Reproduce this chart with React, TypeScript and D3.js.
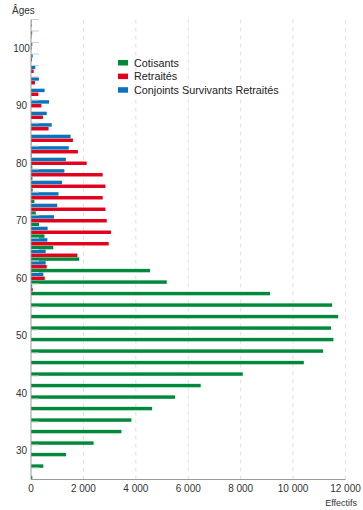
import React, { useRef, useEffect } from 'react';
import * as d3 from 'd3';

// age groups (2-year bins, centred on even ages)
const ages = [26, 28, 30, 32, 34, 36, 38, 40, 42, 44, 46, 48, 50, 52, 54, 56, 58, 60, 62, 64,
  66, 68, 70, 72, 74, 76, 78, 80, 82, 84, 86, 88, 90, 92, 94, 96, 98, 100, 102, 104];

const cotisants = [50, 470, 1335, 2390, 3450, 3830, 4620, 5495, 6475, 8080, 10410, 11145, 11540, 11450, 11720, 11490, 9120, 5180, 4540, 1840,
  850, 515, 305, 185, 130, 65, 55, 50, 25, 15, 0, 0, 0, 0, 0, 0, 0, 0, 0, 0];

const retraites = [0, 0, 0, 0, 0, 0, 0, 0, 0, 0, 0, 0, 0, 0, 0, 0, 65, 525, 600, 1770,
  2965, 3050, 2890, 2840, 2735, 2840, 2735, 2125, 1790, 1600, 670, 455, 395, 280, 150, 100, 35, 20, 15, 20];

const conjoints = [0, 0, 0, 0, 0, 0, 0, 0, 0, 0, 0, 0, 0, 0, 0, 0, 45, 470, 560, 560,
  625, 635, 880, 1000, 1050, 1185, 1275, 1330, 1440, 1510, 790, 600, 690, 520, 300, 165, 65, 50, 45, 15];

const ageTicks = [30, 40, 50, 60, 70, 80, 90, 100];
const xTicks = [0, 2000, 4000, 6000, 8000, 10000, 12000];

const seriesNames = ['Cotisants', 'Retraités', 'Conjoints Survivants Retraités'];
const seriesKeys = ['cot', 'ret', 'conj'];
const colors = ['#00893A', '#E3001B', '#0B72BC'];

export default function App() {
  const ref = useRef<SVGSVGElement>(null);

  useEffect(() => {
    const font = '"Liberation Sans", Arial, sans-serif';
    const svg = d3.select(ref.current);
    svg.selectAll('*').remove();

    const x = d3.scaleLinear().domain([0, 12000]).range([31, 345.5]);
    const y = d3.scaleLinear().domain([25, 105]).range([479.5, 19.5]);
    const groupH = y(0) - y(2);
    // within a group: blue on top, red middle, green bottom
    const sub = d3.scaleBand<string>()
      .domain(['conj', 'ret', 'cot'])
      .range([-groupH / 2, groupH / 2])
      .paddingInner(0.1)
      .paddingOuter(0.05);

    const fr = d3.formatLocale({ decimal: ',', thousands: '\u00a0', grouping: [3], currency: ['', ' €'] }).format(',');

    // dashed gridlines
    svg.append('g')
      .selectAll('line')
      .data(xTicks.filter(d => d > 0))
      .join('line')
      .attr('x1', d => x(d)).attr('x2', d => x(d))
      .attr('y1', y(105)).attr('y2', y(25))
      .attr('stroke', '#e0e0e0')
      .attr('stroke-dasharray', '4,4');

    // bars
    const series = [cotisants, retraites, conjoints];
    series.forEach((vals, si) => {
      svg.append('g')
        .selectAll('rect')
        .data(ages.map((a, i) => ({ age: a, v: vals[i] })).filter(d => d.v > 0))
        .join('rect')
        .attr('x', x(0))
        .attr('y', d => y(d.age) + (sub(seriesKeys[si]) as number))
        .attr('width', d => x(d.v) - x(0))
        .attr('height', sub.bandwidth())
        .attr('fill', colors[si]);
    });

    // small y ticks at bin boundaries
    const bounds = ages.map(a => a + 1);
    svg.append('g')
      .selectAll('line')
      .data(bounds)
      .join('line')
      .attr('x1', x(0)).attr('x2', x(0) + 8)
      .attr('y1', d => y(d)).attr('y2', d => y(d))
      .attr('stroke', '#cfcfcf');

    // axes
    svg.append('line')
      .attr('x1', x(0)).attr('x2', x(0))
      .attr('y1', y(105)).attr('y2', y(25))
      .attr('stroke', '#9a9a9a');
    svg.append('line')
      .attr('x1', x(0)).attr('x2', x(12000))
      .attr('y1', y(25)).attr('y2', y(25))
      .attr('stroke', '#9a9a9a');

    svg.append('g')
      .selectAll('text')
      .data(ageTicks)
      .join('text')
      .attr('x', 21.5)
      .attr('y', d => y(d))
      .attr('dy', '0.35em')
      .attr('text-anchor', 'middle')
      .attr('font-family', font)
      .attr('font-size', 10)
      .attr('fill', '#333')
      .text(d => d);

    svg.append('g')
      .selectAll('text')
      .data(xTicks)
      .join('text')
      .attr('x', d => x(d))
      .attr('y', 492)
      .attr('text-anchor', 'middle')
      .attr('font-family', font)
      .attr('font-size', 10)
      .attr('fill', '#333')
      .text(d => fr(d));

    svg.append('text')
      .attr('x', 12).attr('y', 14)
      .attr('font-family', font).attr('font-size', 10).attr('fill', '#333')
      .text('Âges');
    svg.append('text')
      .attr('x', 357).attr('y', 506)
      .attr('text-anchor', 'end')
      .attr('font-family', font).attr('font-size', 9).attr('fill', '#333')
      .text('Effectifs');

    // legend
    const lg = svg.append('g').attr('transform', 'translate(118,60)');
    seriesNames.forEach((n, i) => {
      const g = lg.append('g').attr('transform', `translate(0,${i * 13.6})`);
      g.append('rect').attr('width', 10).attr('height', 5.5).attr('fill', colors[i]);
      g.append('text')
        .attr('x', 16).attr('y', 2.75).attr('dy', '0.35em')
        .attr('font-family', font).attr('font-size', 10.8).attr('fill', '#222')
        .text(n);
    });
  }, []);

  return (
    <svg ref={ref} width={363} height={510}
      style={{ position: 'absolute', left: 0, top: 0, background: '#fff' }} />
  );
}
